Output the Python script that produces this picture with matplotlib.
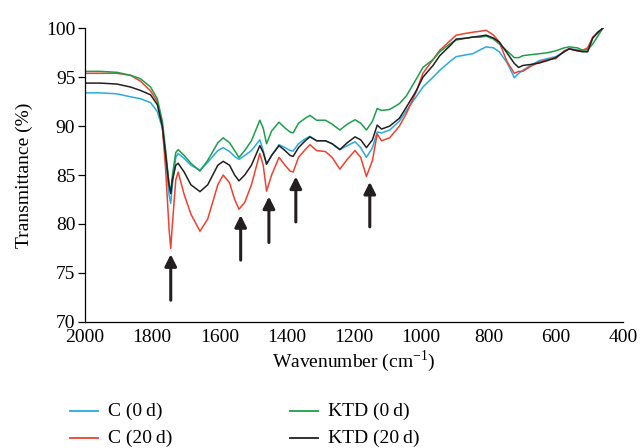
"""FTIR transmittance spectra of C and KTD samples at 0 d and 20 d."""

import matplotlib
matplotlib.use("Agg")
import matplotlib.pyplot as plt
from matplotlib.lines import Line2D

plt.rcParams.update({
    "font.family": ["Liberation Serif", "DejaVu Serif"],
    "font.size": 14,
    "mathtext.fontset": "custom",
    "mathtext.rm": "Liberation Serif",
})

# wavenumber grid (cm^-1)
wavenumber = [2000, 1955, 1905, 1865, 1835, 1805, 1785, 1770, 1760, 1750, 1745,
              1740, 1730, 1723, 1705, 1685, 1658, 1635, 1605, 1589, 1570, 1555,
              1542, 1525, 1505, 1480, 1470, 1460, 1445, 1423, 1405, 1390, 1381,
              1365, 1345, 1331, 1311, 1285, 1265, 1242, 1220, 1197, 1180, 1163,
              1145, 1131, 1118, 1094, 1065, 1044, 1015, 995, 965, 945, 915, 896,
              865, 847, 825, 807, 785, 768, 745, 723, 710, 698, 675, 649, 625,
              600, 575, 560, 535, 520, 505, 490, 475, 460]

c_0d = [93.4, 93.4, 93.3, 93.0, 92.8, 92.4, 91.5, 89.8, 86.5, 83.0, 82.1,
        84.0, 86.8, 87.2, 86.7, 86.0, 85.5, 86.3, 87.5, 87.8, 87.4, 86.9,
        86.6, 87.0, 87.5, 88.6, 87.5, 86.15, 87.0, 88.1, 87.8, 87.5, 87.45,
        88.2, 88.7, 88.95, 88.5, 88.5, 88.2, 87.6, 88.0, 88.4, 87.8, 86.8,
        87.8, 89.4, 89.3, 89.6, 90.5, 91.6, 93.0, 94.0, 95.0, 95.7, 96.6, 97.1,
        97.3, 97.4, 97.8, 98.1, 98.0, 97.6, 96.5, 94.95, 95.4, 95.7, 96.2, 96.7, 96.9,
        97.1, 97.6, 97.9, 97.8, 97.75, 97.9, 99.0, 99.6, 100.0]

c_20d = [95.4, 95.4, 95.4, 95.2, 94.6, 93.6, 92.5, 90.0, 85.5, 79.5, 77.5,
         80.0, 84.5, 85.3, 83.0, 81.0, 79.25, 80.5, 84.0, 85.0, 84.2, 82.5,
         81.5, 82.2, 84.0, 87.2, 86.0, 83.35, 85.0, 86.8, 86.0, 85.4, 85.3,
         86.8, 87.6, 88.1, 87.5, 87.4, 86.8, 85.6, 86.6, 87.5, 86.8, 84.85,
         86.5, 89.2, 88.5, 88.8, 90.0, 91.3, 93.5, 95.4, 96.8, 97.75, 98.7, 99.3,
         99.5, 99.6, 99.7, 99.8, 99.3, 98.6, 96.6, 95.4, 95.6, 95.6, 96.1, 96.55, 96.8,
         96.9, 97.7, 97.9, 97.7, 97.75, 98.0, 99.1, 99.5, 100.0]

ktd_0d = [95.6, 95.6, 95.5, 95.2, 94.85, 94.0, 92.8, 90.5, 87.5, 84.0, 83.3,
          85.0, 87.3, 87.6, 87.0, 86.2, 85.4, 86.5, 88.3, 88.8, 88.3, 87.5,
          86.8, 87.5, 88.5, 90.6, 89.8, 88.2, 89.5, 90.4, 89.8, 89.4, 89.3,
          90.3, 90.8, 91.1, 90.6, 90.6, 90.2, 89.6, 90.2, 90.65, 90.3, 89.6,
          90.5, 91.8, 91.6, 91.7, 92.3, 93.1, 94.8, 96.0, 96.8, 97.6, 98.4, 98.8,
          99.0, 99.1, 99.1, 99.2, 98.9, 98.4, 97.7, 97.0, 97.0, 97.2, 97.3, 97.4, 97.5,
          97.7, 98.0, 98.1, 98.0, 97.75, 97.8, 98.4, 99.2, 100.0]

ktd_20d = [94.4, 94.4, 94.3, 94.0, 93.65, 93.2, 92.2, 90.0, 87.0, 84.0, 83.1,
           84.5, 86.0, 86.2, 85.3, 84.0, 83.3, 84.0, 86.0, 86.4, 86.0, 85.0,
           84.4, 85.0, 86.0, 88.0, 87.3, 86.1, 87.0, 88.0, 87.5, 87.0, 86.9,
           87.8, 88.5, 88.9, 88.5, 88.5, 88.2, 87.6, 88.3, 88.9, 88.6, 87.8,
           88.6, 90.1, 89.7, 90.0, 90.8, 91.95, 93.6, 95.0, 96.2, 97.2, 98.2, 98.9,
           99.0, 99.1, 99.2, 99.3, 99.0, 98.6, 97.5, 96.4, 96.0, 96.2, 96.3, 96.45, 96.7,
           97.0, 97.6, 97.9, 97.7, 97.6, 97.6, 99.0, 99.6, 100.0]

# marked absorption bands: (wavenumber, arrow tip, arrow tail)
arrow_bands = [(1745, 76.9, 72.2), (1537, 80.9, 76.3), (1453, 82.8, 78.1),
               (1373, 84.85, 80.2), (1153, 84.3, 79.7)]

BLUE = "#29ABE2"
RED = "#EF4131"
GREEN = "#1C9F4B"
BLACK = "#231F20"

fig = plt.figure(figsize=(6.4, 4.48), dpi=100)
ax = fig.add_axes([0.1328, 0.2819, 0.8406, 0.6549])

ax.plot(wavenumber, c_0d, color=BLUE, lw=1.1)
ax.plot(wavenumber, c_20d, color=RED, lw=1.1)
ax.plot(wavenumber, ktd_0d, color=GREEN, lw=1.1)
ax.plot(wavenumber, ktd_20d, color=BLACK, lw=1.1)

for wn, tip, tail in arrow_bands:
    ax.annotate("", xy=(wn, tip), xytext=(wn, tail),
                arrowprops=dict(arrowstyle="-|>,head_length=0.5,head_width=0.25",
                                lw=2.2, color=BLACK, shrinkA=0, shrinkB=0,
                                mutation_scale=14))

ax.set_xlim(2000, 400)
ax.set_ylim(70, 100)
ax.set_xticks([2000, 1800, 1600, 1400, 1200, 1000, 800, 600, 400])
ax.set_yticks([70, 75, 80, 85, 90, 95, 100])
ax.spines["top"].set_visible(False)
ax.spines["right"].set_visible(False)
ax.spines["left"].set_linewidth(0.9)
ax.spines["bottom"].set_linewidth(0.9)
ax.tick_params(axis="y", direction="out", length=5, width=0.9, pad=2)
ax.tick_params(axis="x", length=0, pad=5)

ax.set_xlabel("Wavenumber (cm$^{-1}$)", labelpad=2)
ax.set_ylabel("Transmittance (%)", labelpad=9)

# legend drawn in figure pixels, two columns under the axes
legend_items = [("C (0\u2009d)", BLUE, 70, 411), ("C (20\u2009d)", RED, 70, 438),
                ("KTD (0\u2009d)", GREEN, 290, 411), ("KTD (20\u2009d)", BLACK, 290, 438)]
W, H = 640, 448
for label, color, x0, y0 in legend_items:
    fig.add_artist(Line2D([x0 / W, (x0 + 28) / W], [1 - y0 / H, 1 - y0 / H],
                          color=color, lw=1.3, transform=fig.transFigure))
    fig.text((x0 + 38) / W, 1 - y0 / H, label, ha="left", va="center",
             fontsize=14)

fig.savefig("out.png", dpi=100)
